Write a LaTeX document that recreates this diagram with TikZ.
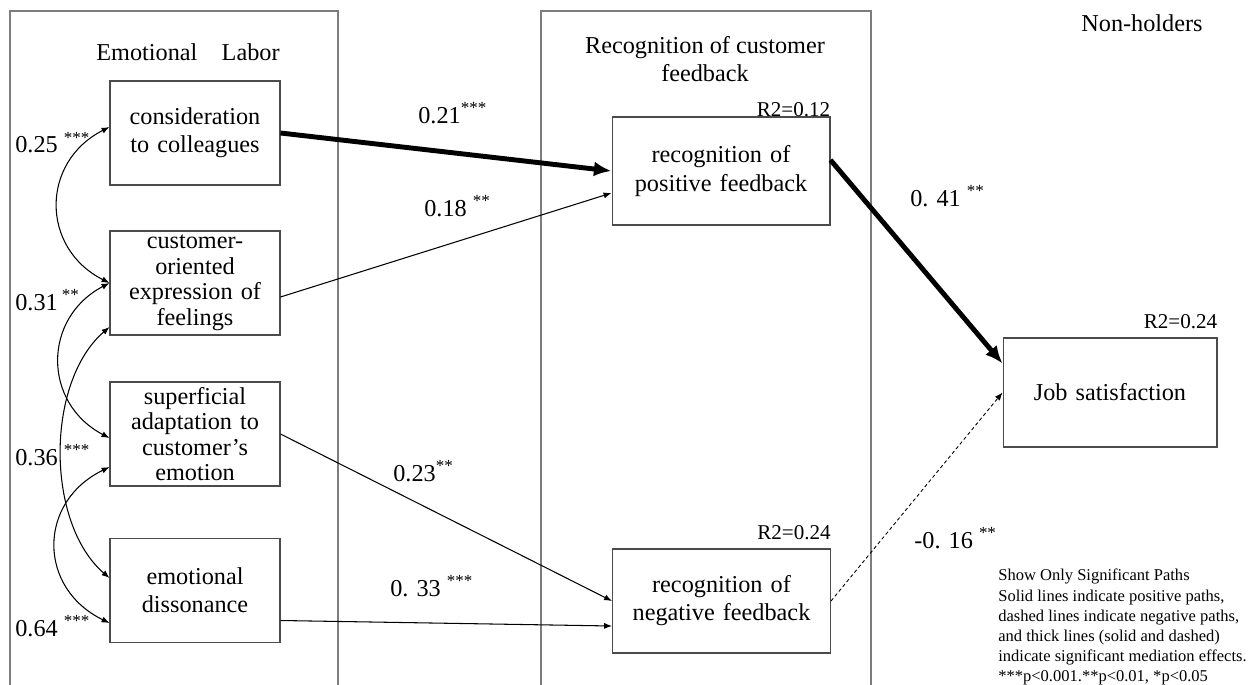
\documentclass[tikz,border=0pt]{standalone}
\usepackage{fontspec}
\setmainfont{Liberation Serif}
\usetikzlibrary{arrows.meta,calc}
\definecolor{FrameGray}{RGB}{125,125,125}
\definecolor{BoxGray}{RGB}{75,75,75}
\tikzset{
  varbox/.style={draw=BoxGray,line width=0.6pt,align=center,inner sep=1pt,
    minimum width=3.4cm,minimum height=2.08cm,text width=3.3cm},
  medbox/.style={varbox,minimum width=4.36cm,minimum height=2.16cm,text width=4.2cm},
  twoline/.style={font=\fontsize{13.8}{16}\selectfont},
  fourline/.style={font=\fontsize{13.8}{14.5}\selectfont},
  thinpath/.style={-{Latex[length=4.5pt,width=3.5pt]},line width=0.6pt},
  thickpath/.style={-{Latex[length=10pt,width=8.5pt]},line width=2.8pt},
  negpath/.style={thinpath,line width=0.5pt,dash pattern=on 2pt off 1.5pt},
  corrpath/.style={{Latex[length=4.5pt,width=3.5pt]}-{Latex[length=4.5pt,width=3.5pt]},line width=0.6pt},
  coef/.style={anchor=base west,inner sep=0pt},
  rsq/.style={anchor=base east,inner sep=0pt,font=\fontsize{12}{13}\selectfont}
}

\begin{document}
\begin{tikzpicture}[x=0.02cm,y=0.02cm,font=\fontsize{13.8}{14.5}\selectfont]
\useasboundingbox (0,0) rectangle (1250,684);
\draw[FrameGray,line width=0.7pt] (10,-5) |- (338,673) -- (338,-5);
\draw[FrameGray,line width=0.7pt] (541,-5) |- (871,673) -- (871,-5);

\node (elhead) at (188,632) {Emotional\quad Labor};
\node[align=center,twoline] (rchead) at (705,625) {Recognition of customer\\feedback};
\node (group) at (1142,661) {Non-holders};

\foreach \nm/\yy/\st/\txt in {cons/551/twoline/{consideration\\to colleagues},
  cust/401/fourline/{customer-\\oriented\\expression of\\feelings},
  sup/250/fourline/{superficial\\adaptation to\\customer’s\\emotion},
  diss/93.5/twoline/{emotional\\dissonance}}
  \node[varbox,\st] (\nm) at (195,\yy) {\txt};

\node[medbox,twoline] (pos) at (721,513) {recognition of\\positive feedback};
\node[medbox,twoline,minimum height=2.08cm] (neg) at (721.5,83) {recognition of\\negative feedback};
\node[medbox,minimum width=4.28cm,minimum height=2.18cm] (job) at (1110,291.5) {Job satisfaction};

\node[rsq] (rpos) at (pos.north east) {R2=0.12};
\node[rsq] (rneg) at ($(neg.north east)+(0,9)$) {R2=0.24};
\node[rsq] (rjob) at ($(job.north east)+(0,9)$) {R2=0.24};

% correlations
\draw[corrpath] ($(cons.west)+(0,6)$) .. controls +(-69,-35) and +(-69,35) .. (cust.west);
\draw[corrpath] (cust.west) .. controls +(-67,-35) and +(-67,35) .. ($(sup.west)+(0,-4)$);
\draw[corrpath] ($(cust.west)+(0,-44)$) .. controls +(-64,-55) and +(-64,55) .. ($(diss.west)+(0,12.5)$);
\draw[corrpath] ($(sup.west)+(0,-33)$) .. controls +(-72,-35) and +(-72,35) .. ($(diss.west)+(0,-32.5)$);
\node[coef] (c25) at (15,531) {0.25 \textsuperscript{***}};
\node[coef] (c31) at (15,374) {0.31\,\textsuperscript{**}};
\node[coef] (c36) at (15,219) {0.36 \textsuperscript{***}};
\node[coef] (c64) at (15,48) {0.64 \textsuperscript{***}};

% paths
\draw[thickpath] (cons.east) -- (pos.west);
\draw[thinpath] ($(cust.east)+(0,-14)$) -- ($(pos.west)+(0,-22)$);
\draw[thinpath] (sup.east) -- (neg.west);
\draw[thinpath] ($(diss.east)+(0,-30)$) -- ($(neg.west)+(0,-25)$);
\draw[thickpath] ($(pos.east)+(0,11)$) -- ($(job.west)+(0,29)$);
\draw[negpath] (neg.east) -- (job.west);

\node[coef] (p21) at (418,561) {0.21\textsuperscript{***}};
\node[coef] (p18) at (424,468) {0.18 \textsuperscript{**}};
\node[coef] (p23) at (393,203) {0.23\textsuperscript{**}};
\node[coef] (p33) at (390,88) {0. 33 \textsuperscript{***}};
\node[coef] (p41) at (910,478) {0. 41 \textsuperscript{**}};
\node[coef] (p16) at (914,136) {-0. 16 \textsuperscript{**}};

\node[anchor=north west,inner sep=0pt,align=left,font=\fontsize{9.4}{11.4}\selectfont] (legend) at (998,115)
  {Show Only Significant Paths\\Solid lines indicate positive paths,\\dashed lines indicate negative paths,\\and thick lines (solid and dashed)\\indicate significant mediation effects.\\***p<0.001.**p<0.01, *p<0.05};
\end{tikzpicture}
\end{document}
